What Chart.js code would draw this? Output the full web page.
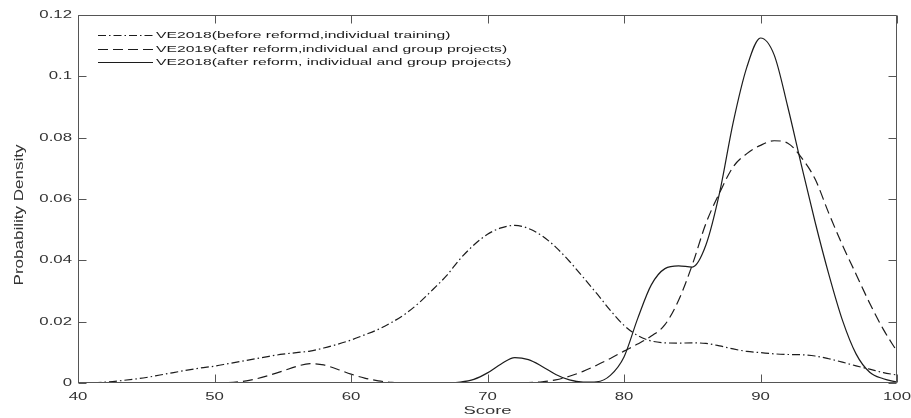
<!DOCTYPE html>
<html>
<head>
<meta charset="utf-8">
<script src="https://cdn.jsdelivr.net/npm/chart.js@4.4.1/dist/chart.umd.min.js"></script>
<style>
  html, body { margin: 0; padding: 0; background: #ffffff; }
  #wrap { width: 911px; height: 418px; position: relative; }
</style>
</head>
<body>
<div id="wrap"><canvas id="c"></canvas></div>
<script>
// ---------------- data ----------------
const scores = [40,41,42,43,44,45,46,47,48,49,50,51,52,53,54,55,56,57,58,59,60,61,62,63,64,65,66,67,68,69,70,71,72,73,74,75,76,77,78,79,80,81,82,83,84,85,86,87,88,89,90,91,92,93,94,95,96,97,98,99,100];

const beforeReform2018 = [0,0.0001,0.0003,0.0007,0.0012,0.0018,0.0026,0.0034,0.0042,0.0049,
  0.0055,0.0063,0.0071,0.0079,0.0087,0.0094,0.0099,0.0104,0.0114,0.0126,
  0.014,0.0157,0.0175,0.0198,0.0226,0.0262,0.0305,0.035,0.0405,0.045,
  0.0485,0.0506,0.0514,0.0504,0.048,0.0443,0.0397,0.0345,0.0292,0.0237,
  0.0188,0.0155,0.0137,0.0131,0.013,0.0131,0.0129,0.0121,0.0111,0.0103,
  0.0099,0.0095,0.0093,0.0092,0.0088,0.0079,0.0068,0.0056,0.0045,0.0034,0.0026];

const afterReform2019 = [0,0,0,0,0,0,0,0,0,0,
  0,0.0001,0.0005,0.0013,0.0025,0.0039,0.0054,0.0063,0.0059,0.0045,
  0.0029,0.0016,0.0007,0.0002,0.0001,0,0,0,0,0,
  0,0,0,0.0001,0.0004,0.001,0.0022,0.0038,0.0058,0.008,
  0.0104,0.0127,0.0153,0.019,0.027,0.0385,0.052,0.062,0.0705,0.0748,
  0.0775,0.079,0.0782,0.0735,0.0665,0.0554,0.045,0.0355,0.026,0.0175,0.0103];

const afterReform2018 = [0,0,0,0,0,0,0,0,0,0,
  0,0,0,0,0,0,0,0,0,0,
  0,0,0,0,0,0,0,0,0.0003,0.0012,
  0.0033,0.0062,0.0083,0.0076,0.0054,0.0028,0.001,0.0003,0.0004,0.0025,
  0.0085,0.021,0.032,0.0373,0.0382,0.0378,0.045,0.062,0.085,0.103,
  0.1125,0.107,0.09,0.071,0.0525,0.0355,0.0205,0.0095,0.0035,0.0014,0.0003];

const seriesNames = [
  'VE2018(before reformd,individual training)',
  'VE2019(after reform,individual and group projects)',
  'VE2018(after reform, individual and group projects)'
];

const xTickValues = [40,50,60,70,80,90,100];
const xTickLabels = ['40','50','60','70','80','90','100'];
const yTickValues = [0,0.02,0.04,0.06,0.08,0.1,0.12];
const yTickLabels = ['0','0.02','0.04','0.06','0.08','0.1','0.12'];
const xTitle = 'Score';
const yTitle = 'Probability Density';

// ---------------- rendering ----------------
const FONT = '"Liberation Sans", Arial, Helvetica, sans-serif';
const canvas = document.getElementById('c');
const ctx = canvas.getContext('2d');

// the reference figure is stretched horizontally: mimic it for text
const SX_H = 1.6, SX_V = 0.72;
const origFill = ctx.fillText;
ctx.fillText = function(text, x, y, maxWidth) {
  const m = this.getTransform();
  const rotated = Math.abs(m.b) > 1e-6;
  const sx = rotated ? SX_V : SX_H;
  const px = m.a * x + m.c * y + m.e, py = m.b * x + m.d * y + m.f;
  this.save();
  this.setTransform(1, 0, 0, 1, 0, 0);
  this.translate(px, py);
  this.scale(sx, 1);
  this.transform(m.a, m.b, m.c, m.d, 0, 0);
  if (maxWidth === undefined) origFill.call(this, text, 0, 0);
  else origFill.call(this, text, 0, 0, maxWidth);
  this.restore();
};

const toPts = arr => scores.map((s, i) => ({ x: s, y: arr[i] }));
const LINE = '#1c1c1c';
const dashes = [[8, 3, 1.5, 3], [10, 5], []];

const framePlugin = {
  id: 'frame',
  afterDraw(chart) {
    const c = chart.ctx;
    const { left, right, top, bottom } = chart.chartArea;
    const xs = chart.scales.x, ys = chart.scales.y;
    c.save();
    c.strokeStyle = '#555555';
    c.lineWidth = 1;
    c.setLineDash([]);
    const L = Math.round(left) + 0.5, R = Math.round(right) - 0.5;
    const T = Math.round(top) + 0.5, B = Math.round(bottom) - 0.5;
    c.beginPath();
    c.rect(L, T, R - L, B - T);
    const TL = 8;
    xTickValues.forEach(v => {
      const p = Math.round(xs.getPixelForValue(v)) + 0.5;
      c.moveTo(p, B); c.lineTo(p, B - TL);
      c.moveTo(p, T); c.lineTo(p, T + TL);
    });
    yTickValues.forEach(v => {
      const p = Math.round(ys.getPixelForValue(v)) + 0.5;
      c.moveTo(L, p); c.lineTo(L + TL, p);
      c.moveTo(R, p); c.lineTo(R - TL, p);
    });
    c.stroke();

    // legend (inside top-left, no box)
    const lx0 = 98, lx1 = 153, ly0 = 35, lgap = 13.6;
    chart.data.datasets.forEach((ds, i) => {
      const y = Math.round(ly0 + i * lgap) + 0.5;
      c.strokeStyle = ds.borderColor;
      c.lineWidth = ds.borderWidth;
      c.setLineDash(ds.borderDash || []);
      c.beginPath(); c.moveTo(lx0, y); c.lineTo(lx1, y); c.stroke();
      c.setLineDash([]);
      c.fillStyle = '#1a1a1a';
      c.font = '9.8px ' + FONT;
      c.textAlign = 'left';
      c.textBaseline = 'middle';
      c.fillText(ds.label, 156, y);
    });

    // y axis title
    c.save();
    c.translate(20, 215);
    c.rotate(-Math.PI / 2);
    c.fillStyle = '#333333';
    c.font = '17px ' + FONT;
    c.textAlign = 'center';
    c.textBaseline = 'middle';
    c.fillText(yTitle, 0, 0);
    c.restore();
    c.restore();
  }
};

new Chart(ctx, {
  type: 'line',
  data: {
    datasets: [beforeReform2018, afterReform2019, afterReform2018].map((arr, i) => ({
      label: seriesNames[i],
      data: toPts(arr),
      borderColor: LINE,
      backgroundColor: LINE,
      borderWidth: 1.2,
      borderDash: dashes[i],
      pointRadius: 0,
      fill: false,
      cubicInterpolationMode: 'monotone'
    }))
  },
  options: {
    responsive: true,
    maintainAspectRatio: false,
    animation: false,
    layout: { padding: { top: 15, right: 14, left: 0, bottom: 0 } },
    plugins: { legend: { display: false }, tooltip: { enabled: false } },
    scales: {
      x: {
        type: 'linear', min: 40, max: 100,
        grid: { display: false, drawTicks: false },
        border: { display: false },
        afterBuildTicks: s => { s.ticks = xTickValues.map(v => ({ value: v })); },
        afterFit: s => { s.height = 35; s.paddingLeft = 0; s.paddingRight = 0; },
        ticks: {
          autoSkip: false, maxRotation: 0, padding: 8,
          color: '#333333',
          font: { family: FONT, size: 10.5 },
          callback: (v, i) => xTickLabels[i]
        },
        title: {
          display: true, text: xTitle, color: '#333333',
          font: { family: FONT, size: 11.5 },
          padding: { top: 0, bottom: 0 }
        }
      },
      y: {
        type: 'linear', min: 0, max: 0.12,
        grid: { display: false, drawTicks: false },
        border: { display: false },
        afterBuildTicks: s => { s.ticks = yTickValues.map(v => ({ value: v })); },
        afterFit: s => { s.width = 78; s.paddingTop = 0; s.paddingBottom = 0; },
        ticks: {
          padding: 6,
          color: '#333333',
          font: { family: FONT, size: 10.5 },
          callback: (v, i) => yTickLabels[i]
        }
      }
    }
  },
  plugins: [framePlugin]
});
</script>
</body>
</html>
